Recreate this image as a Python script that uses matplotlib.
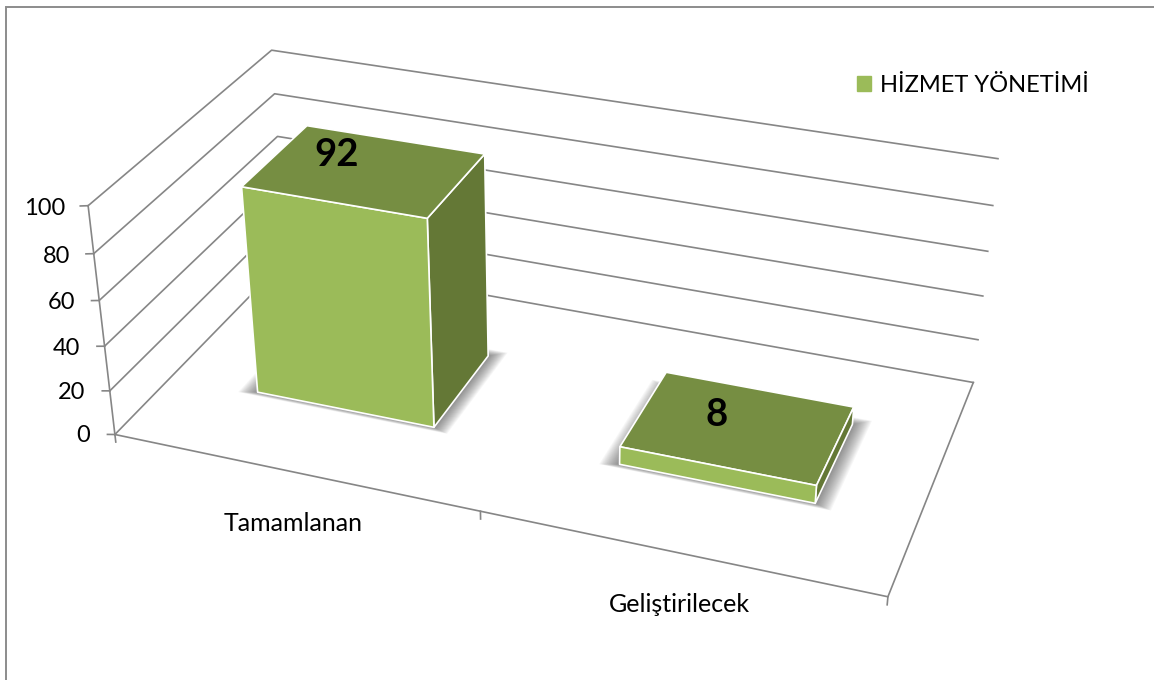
import numpy as np
import matplotlib
matplotlib.use("Agg")
import matplotlib.pyplot as plt
from matplotlib.patches import Patch, Rectangle
from mpl_toolkits.mplot3d.art3d import Poly3DCollection

categories = ["Tamamlanan", "Geliştirilecek"]
values = [92, 8]
y_ticks = [0, 20, 40, 60, 80, 100]
series_name = "HİZMET YÖNETİMİ"

FRONT = "#9BBB59"
TOP = "#768E42"
SIDE = "#647836"
GRID = "#868686"

plt.rcParams["font.family"] = ["Lato", "DejaVu Sans"]


# camera of the excel 3d chart: (x, y, z) -> picture position in -1..1, fitted on the box corners
def fit_camera():
    world = [(0, 0, 0), (1, 0, 0), (1, 1, 0), (0, 1, 0), (0, 0, 100), (0, 1, 100),
             (1, 1, 100), (0, 1, 60), (1, 1, 60), (1, 1, 20)]
    pixel = [(114, 434), (888, 597), (973, 382), (287, 260), (89, 206), (271, 50),
             (998, 159), (277, 136), (988, 251), (978, 340)]
    a, b = [], []
    for (x, y, z), (u, v) in zip(world, pixel):
        a.append([x, y, z, 1, 0, 0, 0, 0, -u * x, -u * y, -u * z])
        a.append([0, 0, 0, 0, x, y, z, 1, -v * x, -v * y, -v * z])
        b += [u, v]
    p = np.append(np.linalg.lstsq(np.array(a, float), np.array(b, float), rcond=None)[0], 1)
    p = p.reshape(3, 4)
    # z row stays negative and grows with distance, mplot3d sorts and clips on it
    return np.vstack([p[0] * 2 / 1154 - p[2], p[1] * 2 / 680 - p[2], [0, 0, 0, -0.5], p[2]])


camera = fit_camera()

fig = plt.figure(figsize=(11.54, 6.8), dpi=100)
ax = fig.add_axes([0, 0, 1, 1], projection="3d", computed_zorder=False)
ax.set_axis_off()
ax.set_xticks([])
ax.set_yticks([])
ax.set_zticks([])
for axis in (ax.xaxis, ax.yaxis, ax.zaxis):
    axis.set_visible(False)
ax.patch.set_alpha(0)
ax.get_proj = lambda: camera
ax.apply_aspect = lambda position=None: None
ax.set_position([0, 0, 1, 1])
ax.viewLim.intervalx = (-1, 1)
ax.viewLim.intervaly = (1, -1)

line_style = dict(color=GRID, lw=1.2, zorder=1)

# walls
for z in y_ticks:
    ax.plot([0, 0, 1], [0, 1, 1], [z, z, z], **line_style)
    ax.plot([-0.011, 0], [0, 0], [z - 0.7, z], **line_style)
    ax.text(-0.033 - (100 - z) * 0.00004, 0, z - 3, str(z), ha="right", va="center",
            fontsize=17, color="black")

# floor box and category ticks
ax.plot([0, 0], [0, 0], [0, 100], **line_style)
ax.plot([0, 1, 1], [0, 0, 1], [0, 0, 0], **line_style)
for x in np.linspace(0, 1, len(categories) + 1):
    ax.plot([x, x], [0, 0], [0, -3.5], **line_style)

n = len(categories)
centers = (np.arange(n) + 0.5) / n
width = 0.25
y0, y1 = 0.31, 0.69

# soft shadow on the floor
for e in np.linspace(0.001, 0.024, 18):
    polys = []
    for c in centers:
        xa, xb = c - width / 2 - e, c + width / 2 + e * 0.9
        ya, yb = y0 - e * 0.7, y1 + e * 1.4
        polys.append([(xa, ya, 0), (xb, ya, 0), (xb, yb, 0), (xa, yb, 0)])
    ax.add_collection3d(Poly3DCollection(polys, facecolor=(0.2, 0.2, 0.2, 0.04),
                                         edgecolor="none", zorder=2))

# order of the faces in bar3d: bottom, top, front, back, left, right
faces = ["none", TOP, FRONT, "none", "none", SIDE]
edges = ["none", "white", "white", "none", "none", "white"]
ax.bar3d(centers - width / 2, np.full(n, y0), np.zeros(n), width, y1 - y0, values,
         color=faces * n, edgecolor=edges * n, linewidth=1.2, shade=False, zorder=3)

label_dx = [-0.052, -0.034]
label_dy = [0.055, 0.035]
for c, v, dx, dy in zip(centers, values, label_dx, label_dy):
    ax.text(c + dx, 0.5 + dy, v, str(v), ha="center", va="center", fontsize=27.5,
            fontweight="bold", color="black", zorder=4)

cat_dx = [-0.005, 0.0035]
cat_z = [-24.5, -22.8]
for c, name, dx, z in zip(centers, categories, cat_dx, cat_z):
    ax.text(c + dx, 0, z, name, ha="center", va="center", fontsize=18, color="black")

ax.legend(handles=[Patch(color=FRONT, label=series_name)], loc="center left",
          bbox_to_anchor=(857 / 1154, 1 - 85.5 / 680), frameon=False, fontsize=17,
          handlelength=0.6, handleheight=0.6, handletextpad=0.38, borderpad=0, borderaxespad=0)

# chart frame, runs off the picture on the right and at the bottom
fig.add_artist(Rectangle((6 / 1154, -0.02), 1.1, 1.02 - 7 / 680, transform=fig.transFigure,
                         fill=False, edgecolor="#8C8C8C", lw=1.4))

fig.savefig("out.png", dpi=100)
